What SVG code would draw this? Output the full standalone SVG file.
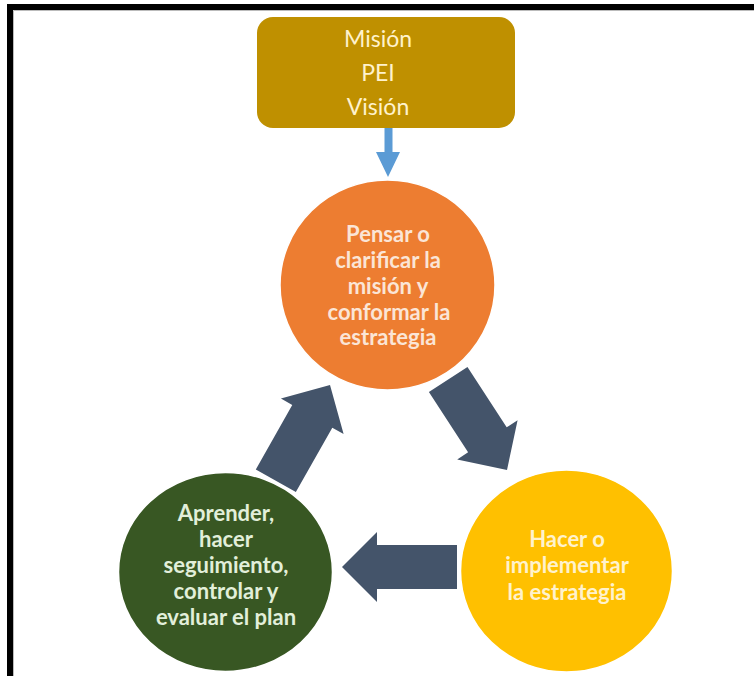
<svg xmlns="http://www.w3.org/2000/svg" width="754" height="676" viewBox="0 0 754 676">
  <style>
    .lbl { font-family: "Lato", "Liberation Sans", sans-serif; text-anchor: middle; }
    .head { font-size: 23px; fill: #FFF2CC; }
    .bold { font-size: 22px; font-weight: bold; }
    .node-shape { stroke: #FFFFFF; stroke-width: 1.5; }
    .big-arrow { fill: #44546A; }
  </style>

  <rect width="754" height="676" fill="#FFFFFF"/>

  <!-- frame -->
  <g id="frame">
    <rect x="7" y="4" width="747" height="6" fill="#000000"/>
    <rect x="7" y="4" width="6" height="672" fill="#000000"/>
    <path d="M13.5,676 V10.5 H754" fill="none" stroke="#BBBBBB" stroke-width="1"/>
  </g>

  <!-- connectors -->
  <g id="connectors">
    <!-- Mision/PEI/Vision down to the first stage -->
    <path d="M384.5,128 H392.5 V152 H400 L388,177 L376,152 H384.5 Z" fill="#5B9BD5"/>
    <!-- first stage to second stage -->
    <path class="big-arrow" transform="translate(507,470) rotate(57)" d="M0,0 L-36,-36 L-36,-23 L-108,-23 L-108,23 L-36,23 L-36,36 Z"/>
    <!-- second stage to third stage -->
    <path class="big-arrow" transform="translate(342,567) rotate(180)" d="M0,0 L-35,-35 L-35,-22 L-115,-22 L-115,22 L-35,22 L-35,35 Z"/>
    <!-- third stage back to first stage -->
    <path class="big-arrow" transform="translate(330,385) rotate(-60.5)" d="M0,0 L-36,-36 L-36,-23 L-110,-23 L-110,23 L-36,23 L-36,36 Z"/>
  </g>

  <!-- top box -->
  <g id="node-mision">
    <rect x="257" y="17" width="258" height="111" rx="16" ry="16" fill="#BF9000"/>
    <text class="lbl head" x="378" y="47">Misión</text>
    <text class="lbl head" x="378" y="81">PEI</text>
    <text class="lbl head" x="378" y="115">Visión</text>
  </g>

  <g id="node-pensar">
    <ellipse class="node-shape" cx="387.5" cy="285" rx="107.5" ry="105" fill="#ED7D31"/>
    <g class="lbl bold" fill="#FBE5D6">
      <text x="388" y="242">Pensar o</text>
      <text x="388" y="268">clarificar la</text>
      <text x="388" y="294">misión y</text>
      <text x="389" y="320">conformar la</text>
      <text x="388" y="345">estrategia</text>
    </g>
  </g>

  <g id="node-hacer">
    <ellipse class="node-shape" cx="566.5" cy="571" rx="106" ry="101" fill="#FFC000"/>
    <g class="lbl bold" fill="#FFF2CC">
      <text x="567" y="547">Hacer o</text>
      <text x="567" y="573">implementar</text>
      <text x="567" y="600">la estrategia</text>
    </g>
  </g>

  <g id="node-aprender">
    <ellipse class="node-shape" cx="225.5" cy="572" rx="107" ry="99.5" fill="#385723"/>
    <g class="lbl bold" fill="#E2EFDA">
      <text x="226" y="521">Aprender,</text>
      <text x="226" y="547">hacer</text>
      <text x="226" y="573">seguimiento,</text>
      <text x="226" y="599">controlar y</text>
      <text x="226" y="625">evaluar el plan</text>
    </g>
  </g>
</svg>
